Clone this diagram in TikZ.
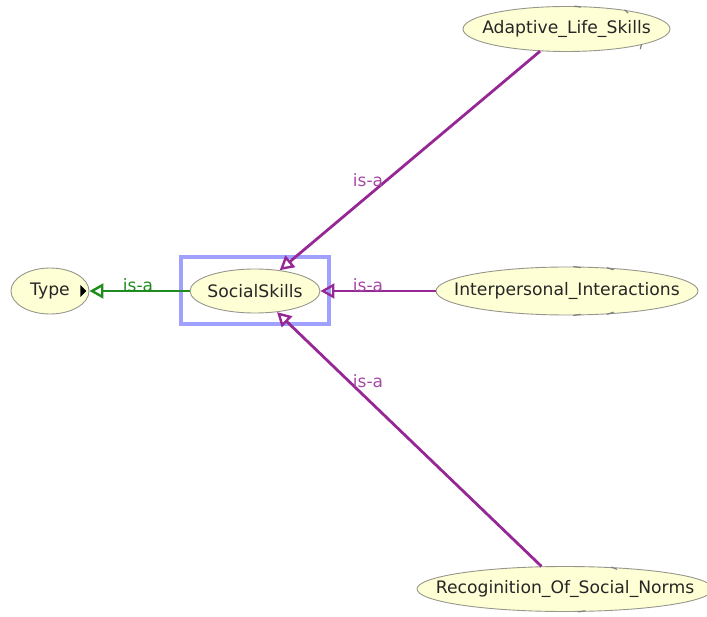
\documentclass[tikz,border=0pt]{standalone}
\usepackage{fontspec}
\setmainfont{DejaVu Sans}
\usetikzlibrary{arrows.meta,shapes.geometric}
\definecolor{nodefill}{RGB}{255,255,214}
\definecolor{nodeline}{RGB}{150,150,140}
\definecolor{isapurple}{RGB}{150,40,150}
\definecolor{isagreen}{RGB}{30,140,30}
\definecolor{selblue}{RGB}{160,160,255}
\tikzset{
  concept/.style={ellipse, draw=nodeline, line width=0.9pt, fill=nodefill,
    inner sep=0pt, label={[conceptname]center:#1}},
  conceptname/.style={font=\fontsize{17.2}{20}\selectfont, text=black!85, inner sep=0pt},
  isaedge/.style={line width=2.8pt, -{Triangle[open, length=14pt, width=15pt, line width=2.4pt]}},
  isalabel/.style={font=\fontsize{17}{20}\selectfont, inner sep=0pt},
  tick/.style={draw=gray, line width=1.2pt, line cap=round},
}
\begin{document}
\begin{tikzpicture}[x=1pt, y=-1pt]
\useasboundingbox (0,0) rectangle (707,617);

% concept nodes
\node[concept=Type, minimum width=78pt, minimum height=46pt] (type) at (50,291) {};
\node[concept=SocialSkills, minimum width=130pt, minimum height=44pt] (social) at (255,291) {};
\node[concept=Adaptive\_Life\_Skills, minimum width=207pt, minimum height=45pt] (adapt) at (566.5,29) {};
\node[concept=Interpersonal\_Interactions, minimum width=262pt, minimum height=48pt] (inter) at (567,291) {};
\node[concept=Recoginition\_Of\_Social\_Norms, minimum width=296pt, minimum height=45pt] (recog) at (565,589) {};

% selection frame around the focused concept
\draw[selblue, line width=3.5pt] (181,257) rectangle (329,324);

% small expansion marks on the node borders
\draw[tick] (adapt.70) -- ++(6,1);
\draw[tick] (adapt.18) -- ++(3,3);
\draw[tick] (adapt.-12) -- ++(-1,4);
\draw[tick] (inter.75) -- ++(7,1);
\draw[tick] (inter.30) -- ++(6,2);
\draw[tick] (inter.-30) -- ++(6,-2);
\draw[tick] (inter.-75) -- ++(7,-1);
\draw[tick] (recog.25) -- ++(5,2);
\draw[tick] (recog.-60) -- ++(7,-1);

% is-a edges
\draw[isaedge, isapurple] (adapt) -- (social);
\draw[isaedge, isapurple] (inter) -- (social);
\draw[isaedge, isapurple] (recog) -- (social);
\draw[isaedge, isagreen] (social) -- (type);

% marker at the Type node
\fill[black] (type.east) ++(-9,-6) -- ++(6,6) -- ++(-6,6) -- cycle;

% edge labels
\node[isalabel, text=isapurple!85] (l1) at (368,180) {is-a};
\node[isalabel, text=isapurple!85] (l2) at (368,285) {is-a};
\node[isalabel, text=isapurple!85] (l3) at (368,381) {is-a};
\node[isalabel, text=isagreen] (l4) at (138,285) {is-a};
\end{tikzpicture}
\end{document}
